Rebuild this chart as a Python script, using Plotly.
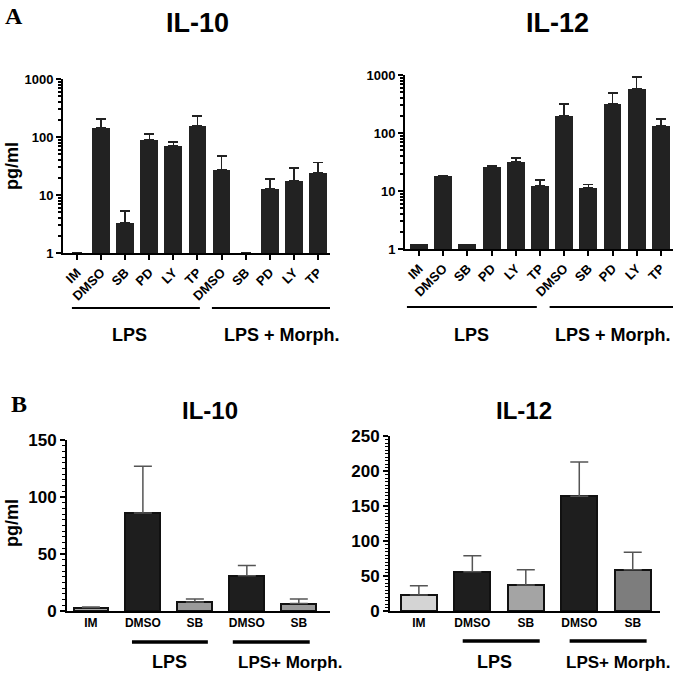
import plotly.graph_objects as go

# ---------------- data ----------------
cats_a = ["IM", "DMSO", "SB", "PD", "LY", "TP", "DMSO", "SB", "PD", "LY", "TP"]
il10_a = [1, 143, 3.3, 89, 70, 155, 27, 1, 12.7, 17.4, 24]
il10_a_err = [None, 61, 2.0, 24, 12, 74, 20, None, 6.3, 11.6, 12]
il12_a = [1.2, 18, 1.2, 26, 32, 12.2, 196, 11.3, 314, 575, 132]
il12_a_err = [None, 0.4, None, 1.2, 5, 3.3, 120, 1.7, 176, 355, 42]

cats_b = ["IM", "DMSO", "SB", "DMSO", "SB"]
il10_b = [3, 86, 8, 31, 6.5]
il10_b_err = [0.6, 41, 2.5, 9, 4]
il12_b = [23, 56, 37, 164, 59]
il12_b_err = [13, 23, 22, 49, 25]
colors_b_left = ["#a9a9a9", "#1e1e1e", "#9a9a9a", "#1e1e1e", "#9a9a9a"]
colors_b_right = ["#d4d4d4", "#1e1e1e", "#a4a4a4", "#1e1e1e", "#7d7d7d"]

log_major = [1, 10, 100, 1000]
log_minor = [m * d for d in (1, 10, 100) for m in range(2, 10)]

W, H = 685, 676
FONT = "Liberation Sans, Arial, sans-serif"

def px(x):
    return x / W

def py(y):
    return 1 - y / H

fig = go.Figure()

xa = list(range(len(cats_a)))
xb = list(range(len(cats_b)))

def errs(vals):
    return dict(type="data", array=vals, symmetric=False,
                arrayminus=[0] * len(vals))

fig.add_trace(go.Bar(x=xa, y=il10_a, xaxis="x", yaxis="y", width=0.74,
                     marker=dict(color="#222222", line=dict(width=0)),
                     error_y=dict(**errs(il10_a_err), color="#222222", thickness=1.5, width=5)))
fig.add_trace(go.Bar(x=xa, y=il12_a, xaxis="x2", yaxis="y2", width=0.74,
                     marker=dict(color="#222222", line=dict(width=0)),
                     error_y=dict(**errs(il12_a_err), color="#222222", thickness=1.5, width=5)))
fig.add_trace(go.Bar(x=xb, y=il10_b, xaxis="x3", yaxis="y3", width=0.67,
                     marker=dict(color=colors_b_left, line=dict(color="#111111", width=2)),
                     error_y=dict(**errs(il10_b_err), color="#555555", thickness=1.5, width=9)))
fig.add_trace(go.Bar(x=xb, y=il12_b, xaxis="x4", yaxis="y4", width=0.67,
                     marker=dict(color=colors_b_right, line=dict(color="#111111", width=2)),
                     error_y=dict(**errs(il12_b_err), color="#555555", thickness=1.5, width=9)))

tickfont_a = dict(family=FONT, size=13, color="black", weight="bold")
tickfont_ax = dict(family=FONT, size=13, color="black", weight="bold")
tickfont_bx = dict(family=FONT, size=12, color="black", weight="bold")
tickfont_b = dict(family=FONT, size=17, color="black", weight="bold")

common_x = dict(showgrid=False, zeroline=False, showline=True, linecolor="black",
                linewidth=2, automargin=False)
common_y = dict(showgrid=False, zeroline=False, showline=True, linecolor="black",
                linewidth=2, ticks="outside", tickcolor="black", tickwidth=2, ticklen=5,
                automargin=False)

fig.update_layout(
    template="none",
    width=W, height=H, margin=dict(l=0, r=0, t=0, b=0, pad=0, autoexpand=False),
    paper_bgcolor="white", plot_bgcolor="white", showlegend=False,
    bargap=0,
    xaxis=dict(domain=[px(63), px(330)], anchor="y", range=[-0.58, 10.5],
               tickvals=xa, ticktext=cats_a, tickangle=-45, ticks="outside",
               ticklen=5, tickwidth=2, tickcolor="black", tickfont=tickfont_ax, **common_x),
    yaxis=dict(domain=[py(253), py(79)], anchor="x", type="log", range=[0, 3],
               tickvals=log_major, ticktext=[str(v) for v in log_major],
               tickfont=tickfont_a,
               minor=dict(ticks="outside", ticklen=3, tickcolor="black", tickwidth=1.5,
                          tickvals=log_minor),
               **common_y),
    xaxis2=dict(domain=[px(405), px(673)], anchor="y2", range=[-0.58, 10.5],
                tickvals=xa, ticktext=cats_a, tickangle=-45, ticks="outside",
                ticklen=5, tickwidth=2, tickcolor="black", tickfont=tickfont_ax, **common_x),
    yaxis2=dict(domain=[py(249), py(75)], anchor="x2", type="log", range=[0, 3],
                tickvals=log_major, ticktext=[str(v) for v in log_major],
                tickfont=tickfont_a,
                minor=dict(ticks="outside", ticklen=3, tickcolor="black", tickwidth=1.5,
                           tickvals=log_minor),
                **common_y),
    xaxis3=dict(domain=[px(67), px(330)], anchor="y3", range=[-0.46, 4.6],
                tickvals=xb, ticktext=cats_b, ticks="", tickfont=tickfont_bx, **common_x),
    yaxis3=dict(domain=[py(611), py(440)], anchor="x3", range=[0, 150],
                tickvals=[0, 50, 100, 150], tickfont=tickfont_b,
                minor=dict(ticks="outside", ticklen=3, tickcolor="black", tickwidth=1,
                           tickvals=list(range(0, 151, 5))),
                **common_y),
    xaxis4=dict(domain=[px(390), px(660)], anchor="y4", range=[-0.54, 4.51],
                tickvals=xb, ticktext=cats_b, ticks="", tickfont=tickfont_bx, **common_x),
    yaxis4=dict(domain=[py(611), py(436)], anchor="x4", range=[0, 250],
                tickvals=[0, 50, 100, 150, 200, 250], tickfont=tickfont_b,
                minor=dict(ticks="outside", ticklen=3, tickcolor="black", tickwidth=1,
                           tickvals=list(range(0, 251, 5))),
                **common_y),
)

ann = []
def text(x, y, s, size, xref="paper", family=FONT, angle=0):
    ann.append(dict(x=x, y=y, xref=xref, yref="paper", text=s, showarrow=False,
                    xanchor="center", yanchor="middle", textangle=angle,
                    font=dict(family=family, size=size, color="black", weight="bold")))

text(px(14), py(16), "A", 24, family="Liberation Serif, Times New Roman, serif")
text(px(19), py(404), "B", 24, family="Liberation Serif, Times New Roman, serif")
text(px(197), py(23), "IL-10", 27)
text(px(557), py(23), "IL-12", 27)
text(px(210), py(410), "IL-10", 24)
text(px(524), py(410), "IL-12", 24)
text(px(12), py(166), "pg/ml", 18, angle=-90)
text(px(12), py(523), "pg/ml", 18, angle=-90)
text(2.17, py(335), "LPS", 18, xref="x")
text(8.5, py(335), "LPS + Morph.", 18, xref="x")
text(2.16, py(335), "LPS", 18, xref="x2")
text(8.0, py(335), "LPS + Morph.", 18, xref="x2")
text(1.52, py(662), "LPS", 18, xref="x3")
text(3.83, py(662), "LPS+ Morph.", 17, xref="x3")
text(1.42, py(662), "LPS", 18, xref="x4")
text(3.72, py(662), "LPS+ Morph.", 17, xref="x4")
fig.update_layout(annotations=ann)

shapes = []
def hline(x0, x1, y, xref, w):
    shapes.append(dict(type="line", xref=xref, yref="paper", x0=x0, x1=x1,
                       y0=py(y), y1=py(y), line=dict(color="black", width=w)))

hline(-0.21, 5.1, 308, "x", 2)
hline(5.6, 10.9, 308, "x", 2)
hline(-0.5, 4.87, 307, "x2", 2)
hline(5.4, 10.77, 307, "x2", 2)
hline(0.79, 2.25, 642, "x3", 3.5)
hline(2.73, 4.21, 642, "x3", 3.5)
hline(0.82, 2.26, 641, "x4", 3.5)
hline(2.82, 4.26, 641, "x4", 3.5)
fig.update_layout(shapes=shapes)

fig.write_html("out.html", config={"displayModeBar": False},
               post_script="document.body.style.margin='0';")
